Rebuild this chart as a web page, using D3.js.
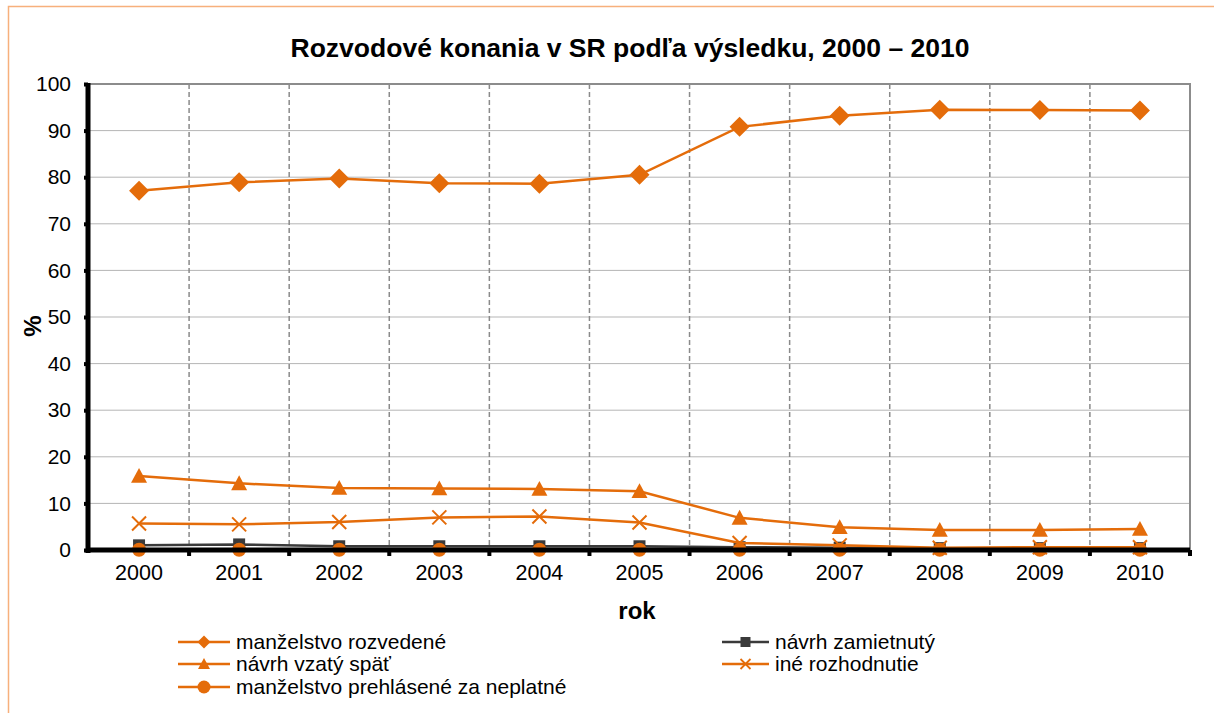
<!DOCTYPE html>
<html>
<head>
<meta charset="utf-8">
<script src="https://cdn.jsdelivr.net/npm/d3@7"></script>
<style>
  body { margin: 0; background: #fff; }
  svg { display: block; font-family: "Liberation Sans", Arial, sans-serif; }
</style>
</head>
<body>
<div id="chart"></div>
<script>
// data
var years = ["2000", "2001", "2002", "2003", "2004", "2005", "2006", "2007", "2008", "2009", "2010"];
var yTicks = [0, 10, 20, 30, 40, 50, 60, 70, 80, 90, 100];

var rozvedene = [77.1, 78.9, 79.7, 78.7, 78.6, 80.5, 90.8, 93.2, 94.5, 94.4, 94.3];
var zamietnuty = [1.0, 1.2, 0.8, 0.8, 0.8, 0.8, 0.6, 0.5, 0.4, 0.4, 0.4];
var vzatySpat = [15.9, 14.3, 13.3, 13.2, 13.1, 12.6, 6.9, 4.9, 4.3, 4.3, 4.5];
var ineRozhodnutie = [5.7, 5.5, 6.0, 7.0, 7.2, 5.9, 1.5, 1.0, 0.5, 0.6, 0.6];
var neplatne = [0.05, 0.05, 0.05, 0.05, 0.05, 0.05, 0.05, 0.05, 0.05, 0.05, 0.05];

var seriesNames = ["manželstvo rozvedené", "návrh zamietnutý", "návrh vzatý späť", "iné rozhodnutie", "manželstvo prehlásené za neplatné"];

var orange = "#e46c0a";
var dark = "#3a3a3a";
var font = "'Liberation Sans', Arial, sans-serif";

var series = [
  {name: seriesNames[0], values: rozvedene, color: orange, marker: "diamond"},
  {name: seriesNames[1], values: zamietnuty, color: dark, marker: "square"},
  {name: seriesNames[2], values: vzatySpat, color: orange, marker: "triangle"},
  {name: seriesNames[3], values: ineRozhodnutie, color: orange, marker: "cross"},
  {name: seriesNames[4], values: neplatne, color: orange, marker: "circle"}
];

// svg dims
var svgWidth = 1214;
var svgHeight = 713;

var margin = {top: 84, right: 24, bottom: 163, left: 89};
var cWidth = svgWidth - margin.left - margin.right;
var cHeight = svgHeight - margin.top - margin.bottom;

var svg = d3.select("#chart")
  .append("svg")
  .attr("width", svgWidth)
  .attr("height", svgHeight)
  .attr("font-family", font);

// outer frame (only top and left edge visible)
svg.append("rect")
  .attr("x", 8.5).attr("y", 6.5)
  .attr("width", 1240).attr("height", 740)
  .attr("fill", "none")
  .attr("stroke", "#f7b07c")
  .attr("stroke-width", 1.5);

var chartGroup = svg.append("g")
  .attr("transform", `translate(${margin.left}, ${margin.top})`);

var xScale = d3.scaleBand()
  .domain(years)
  .range([0, cWidth])
  .padding(0);

var yScale = d3.scaleLinear()
  .domain([0, 100])
  .range([cHeight, 0]);

var bw = xScale.bandwidth();

// horizontal gridlines
chartGroup.append("g")
  .selectAll("line")
  .data(yTicks.filter(t => t > 0 && t < 100))
  .enter()
  .append("line")
  .attr("x1", 0).attr("x2", cWidth)
  .attr("y1", d => yScale(d)).attr("y2", d => yScale(d))
  .attr("stroke", "#b5b5b5")
  .attr("stroke-width", 1);

// vertical dashed gridlines at category boundaries
chartGroup.append("g")
  .selectAll("line")
  .data(years.slice(1))
  .enter()
  .append("line")
  .attr("x1", d => xScale(d)).attr("x2", d => xScale(d))
  .attr("y1", 0).attr("y2", cHeight)
  .attr("stroke", "#8a8a8a")
  .attr("stroke-width", 1.5)
  .attr("stroke-dasharray", "5,3");

// plot border top + right
chartGroup.append("path")
  .attr("d", `M0,${yScale(100)}H${cWidth}V${cHeight}`)
  .attr("fill", "none")
  .attr("stroke", "#8c8c8c")
  .attr("stroke-width", 2);

// markers
function markerPath(type, s) {
  var p = d3.path();
  if (type === "diamond") {
    p.moveTo(0, -s); p.lineTo(s, 0); p.lineTo(0, s); p.lineTo(-s, 0); p.closePath();
  } else if (type === "square") {
    p.rect(-s, -s, 2 * s, 2 * s);
  } else if (type === "triangle") {
    p.moveTo(0, -s); p.lineTo(s, s * 0.85); p.lineTo(-s, s * 0.85); p.closePath();
  } else if (type === "circle") {
    p.arc(0, 0, s, 0, 2 * Math.PI);
  } else if (type === "cross") {
    p.moveTo(-s, -s); p.lineTo(s, s); p.moveTo(s, -s); p.lineTo(-s, s);
  }
  return p.toString();
}

var markerSize = {diamond: 10, square: 6, triangle: 8, circle: 7, cross: 7};

var line = d3.line()
  .x((d, i) => xScale(years[i]) + bw / 2)
  .y(d => yScale(d));

series.forEach(s => {
  var g = chartGroup.append("g");
  g.append("path")
    .attr("d", line(s.values))
    .attr("fill", "none")
    .attr("stroke", s.color)
    .attr("stroke-width", 2.5);
  g.selectAll("path.m")
    .data(s.values)
    .enter()
    .append("path")
    .attr("class", "m")
    .attr("transform", (d, i) => `translate(${xScale(years[i]) + bw / 2},${yScale(d)})`)
    .attr("d", markerPath(s.marker, markerSize[s.marker]))
    .attr("fill", s.marker === "cross" ? "none" : s.color)
    .attr("stroke", s.color)
    .attr("stroke-width", s.marker === "cross" ? 2 : 0);
});

// axes
var leftAxis = d3.axisLeft(yScale).tickValues(yTicks).tickSize(5).tickPadding(12);
var bottomAxis = d3.axisBottom(xScale).tickSize(0).tickPadding(12);

var yAxisG = chartGroup.append("g").call(leftAxis);
yAxisG.select(".domain").remove();
yAxisG.selectAll(".tick line").attr("stroke", "#000").attr("stroke-width", 4).attr("x1", -1);
yAxisG.selectAll(".tick text").attr("font-size", 21).attr("font-family", font).attr("fill", "#000").attr("x", -18);

var xAxisG = chartGroup.append("g")
  .attr("transform", `translate(0, ${cHeight})`)
  .call(bottomAxis);
xAxisG.select(".domain").remove();
xAxisG.selectAll(".tick text").attr("font-size", 21.5).attr("font-family", font).attr("fill", "#000").attr("dy", "0.82em");

// x tick marks at boundaries
chartGroup.append("g")
  .selectAll("line")
  .data(years.slice(1).concat(["end"]))
  .enter()
  .append("line")
  .attr("x1", d => d === "end" ? cWidth : xScale(d))
  .attr("x2", d => d === "end" ? cWidth : xScale(d))
  .attr("y1", cHeight).attr("y2", cHeight + 6)
  .attr("stroke", "#000").attr("stroke-width", 4);

// thick axis lines
chartGroup.append("line")
  .attr("x1", -1).attr("x2", -1)
  .attr("y1", yScale(100) - 1).attr("y2", cHeight + 3)
  .attr("stroke", "#000").attr("stroke-width", 5);
chartGroup.append("line")
  .attr("x1", -3).attr("x2", cWidth)
  .attr("y1", cHeight).attr("y2", cHeight)
  .attr("stroke", "#000").attr("stroke-width", 5);

// titles
svg.append("text")
  .attr("x", 630).attr("y", 57)
  .attr("text-anchor", "middle")
  .attr("font-size", 26.5).attr("font-weight", "bold")
  .text("Rozvodové konania v SR podľa výsledku, 2000 – 2010");

svg.append("text")
  .attr("x", 637).attr("y", 619)
  .attr("text-anchor", "middle")
  .attr("font-size", 24).attr("font-weight", "bold")
  .text("rok");

svg.append("text")
  .attr("transform", "translate(41, 326) rotate(-90)")
  .attr("text-anchor", "middle")
  .attr("font-size", 24).attr("font-weight", "bold")
  .text("%");

// legend
var legendPos = [
  {x: 178, y: 642}, {x: 722, y: 642},
  {x: 178, y: 664}, {x: 722, y: 664},
  {x: 178, y: 687}
];
var legendMarker = {diamond: 6.5, square: 5, triangle: 6, circle: 6.5, cross: 5};

var legend = svg.append("g");
series.forEach((s, i) => {
  var p = legendPos[i];
  var len = i % 2 === 1 ? 47 : 52;
  var g = legend.append("g").attr("transform", `translate(${p.x}, ${p.y})`);
  g.append("line")
    .attr("x1", 0).attr("x2", len)
    .attr("stroke", s.color).attr("stroke-width", 2.5);
  g.append("path")
    .attr("transform", `translate(${len / 2}, 0)`)
    .attr("d", markerPath(s.marker, legendMarker[s.marker]))
    .attr("fill", s.marker === "cross" ? "none" : s.color)
    .attr("stroke", s.color)
    .attr("stroke-width", s.marker === "cross" ? 1.8 : 0);
  g.append("text")
    .attr("x", len + 6).attr("y", 0)
    .attr("dy", "0.35em")
    .attr("font-size", 21)
    .text(s.name);
});
</script>
</body>
</html>
